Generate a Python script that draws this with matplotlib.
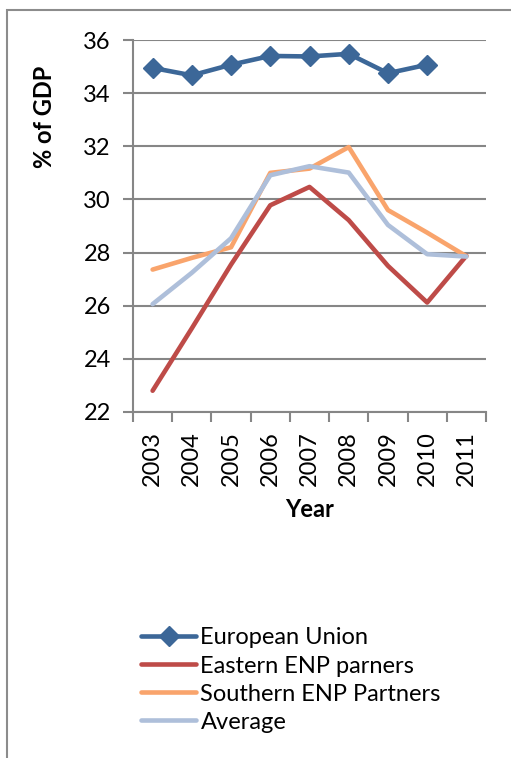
import matplotlib.pyplot as plt
from matplotlib.patches import Rectangle

plt.rcParams["font.family"] = ["Lato", "DejaVu Sans"]

years = ["2003", "2004", "2005", "2006", "2007", "2008", "2009", "2010", "2011"]
eu = [34.95, 34.67, 35.07, 35.40, 35.38, 35.48, 34.75, 35.07]
eastern = [22.8, 25.15, 27.55, 29.78, 30.47, 29.22, 27.5, 26.12, 27.88]
southern = [27.36, 27.8, 28.2, 31.0, 31.16, 31.97, 29.6, 28.75, 27.86]
average = [26.06, 27.24, 28.54, 30.91, 31.25, 31.01, 29.04, 27.94, 27.85]

fs = 17

fig = plt.figure(figsize=(5.11, 7.58), dpi=100)

# chart area frame
fig.patches.append(Rectangle((7 / 511, -0.1), 1.2, 1.1 - 10 / 758, transform=fig.transFigure,
                             fill=False, edgecolor="#8c8c8c", linewidth=1.5))

ax = fig.add_axes([133 / 511, 1 - 412 / 758, (486 - 133) / 511, (412 - 40) / 758])

x = range(len(years))
ax.plot(range(len(eu)), eu, color="#3c6798", lw=3.3, marker="D", ms=10,
        label="European Union", solid_capstyle="round")
ax.plot(x, eastern, color="#be4b48", lw=3.3, label="Eastern ENP parners", solid_capstyle="round")
ax.plot(x, southern, color="#f9a46c", lw=3.3, label="Southern ENP Partners", solid_capstyle="round")
ax.plot(x, average, color="#aebfda", lw=3.3, label="Average", solid_capstyle="round")

ax.set_xlim(-0.5, len(years) - 0.5)
ax.set_ylim(22, 36)
ax.set_yticks(range(22, 37, 2))
ax.set_xticks(x)
ax.set_xticklabels(years, rotation=90, fontsize=fs)
ax.set_xticks([i - 0.5 for i in range(len(years) + 1)], minor=True)
ax.tick_params(axis="x", which="major", length=0, pad=14)
ax.tick_params(axis="x", which="minor", length=7, width=1.5, color="#868686")
ax.tick_params(axis="y", length=7, width=1.5, color="#868686", labelsize=fs, pad=9)

ax.grid(axis="y", color="#868686", lw=1.5)
ax.set_axisbelow(True)
for side in ["top", "right"]:
    ax.spines[side].set_visible(False)
for side in ["left", "bottom"]:
    ax.spines[side].set_color("#868686")
    ax.spines[side].set_linewidth(1.5)

ax.set_xlabel("Year", fontsize=fs, fontweight="bold", labelpad=8)
fig.text(45 / 511, 1 - 117 / 758, "% of GDP", rotation=90, fontsize=fs, fontweight="bold",
         ha="center", va="center")

fig.legend(loc="upper left", bbox_to_anchor=(132 / 511, 1 - 618 / 758), frameon=False,
           fontsize=fs, handlelength=2.3, handletextpad=0.2, labelspacing=0.3,
           borderaxespad=0)

fig.savefig("out.png", dpi=100)
